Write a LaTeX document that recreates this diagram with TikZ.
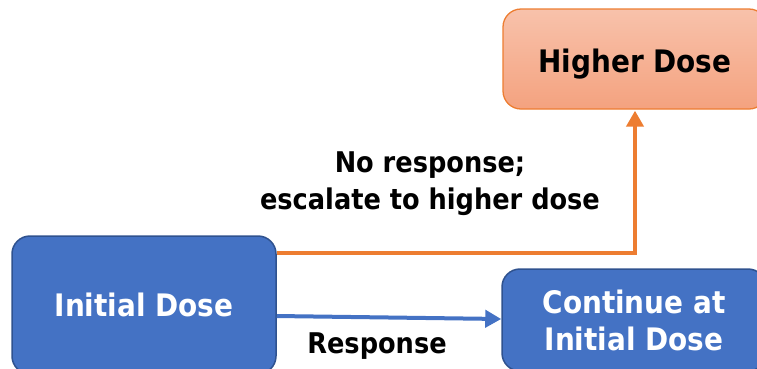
\documentclass[tikz,border=0pt]{standalone}
\usepackage{fontspec}
\setmainfont{DejaVu Sans Condensed}
\usetikzlibrary{arrows.meta}
\definecolor{ablue}{HTML}{4472C4}
\definecolor{dblue}{HTML}{2F528F}
\definecolor{aorange}{HTML}{ED7D31}
\definecolor{ptop}{HTML}{F8C2AB}
\definecolor{pbot}{HTML}{F4A27F}
\tikzset{
  box/.style={rounded corners=18pt, minimum width=264pt, inner sep=0pt, align=center,
    font=\bfseries\fontsize{31}{37}\selectfont},
  bluebox/.style={box, fill=ablue, draw=dblue, line width=1.5pt, text=white},
  orangebox/.style={box, top color=ptop, bottom color=pbot, draw=aorange, line width=1.3pt, text=black},
  conn/.style={line width=4pt, -{Triangle[length=16pt,width=17pt]}},
  lbl/.style={font=\bfseries\fontsize{28.5}{37}\selectfont, align=center, text=black}
}
\begin{document}
\begin{tikzpicture}[x=1pt,y=-1pt]
\useasboundingbox (0,0) rectangle (757,368);
\clip (0,0) rectangle (757,368);
\node[orangebox, minimum height=100pt, text height=26pt, text depth=0pt] (higher) at (635,59) {Higher Dose};
\node[bluebox, minimum height=138pt] (init) at (144,305) {Initial Dose};
\node[bluebox, minimum height=102pt] (cont) at (634,320) {Continue at\\Initial Dose};
\coordinate (bend) at (635,253);
\coordinate (bs) at (0,316);
\coordinate (be) at (0,319);
\draw[conn, draw=aorange] (init.east |- bend) -- (bend) -- ([yshift=-1pt]higher.south);
\draw[conn, draw=ablue] (init.east |- bs) -- (cont.west |- be);
\node[lbl] (esc) at (430,184) {No response;\\escalate to higher dose};
\node[lbl, anchor=base] (resp) at (377,353) {Response};
\end{tikzpicture}
\end{document}
